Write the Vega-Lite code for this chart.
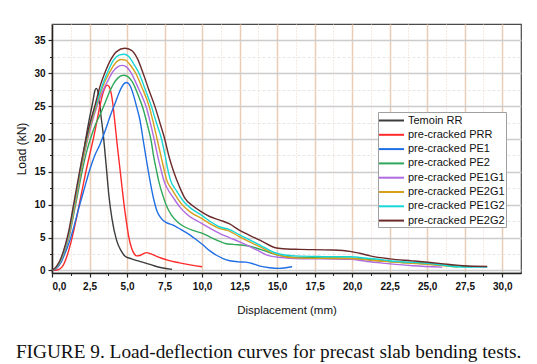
{
  "$schema": "https://vega.github.io/schema/vega-lite/v6.json",
  "width": 469,
  "height": 249,
  "autosize": {"type": "none"},
  "padding": {"left": 52, "top": 24, "right": 16, "bottom": 91},
  "background": "white",
  "title": {
    "text": "FIGURE 9. Load-deflection curves for precast slab bending tests.",
    "orient": "bottom",
    "anchor": "start",
    "frame": "bounds",
    "offset": 27,
    "font": "Liberation Serif",
    "fontSize": 19.3,
    "fontWeight": "normal",
    "color": "#111"
  },
  "config": {
    "font": "Liberation Sans",
    "view": {"stroke": "#4a4a4a", "strokeWidth": 1.2},
    "axis": {"zindex": 0}
  },
  "data": {
    "values": [
      {"s": "Temoin RR", "x": [0,0.3,0.6,0.9,1.1,1.4,1.7,2.0,2.25,2.5,2.73,2.85,2.95,3.05,3.15,3.25,3.4,3.6,3.8,4.0,4.3,4.6,4.85,5.3,5.8,6.3,6.8,7.3,8.0], "y": [0,0.4,1.5,3.5,5.3,8.8,12.5,16.3,20,23.2,25.8,27.3,27.7,27.3,26,23.8,21,16.2,11.2,7.8,4.6,3.0,2.2,1.75,1.4,1.07,0.7,0.4,0.15]},
      {"s": "pre-cracked PRR", "x": [0,0.4,0.7,1.0,1.3,1.6,1.9,2.2,2.5,2.8,3.0,3.2,3.4,3.55,3.67,3.8,3.92,4.05,4.2,4.35,4.5,4.65,4.8,4.95,5.1,5.3,5.5,5.65,5.9,6.1,6.3,6.55,6.9,7.3,7.7,8.5,9.3,10.0], "y": [0,0.1,0.6,2.2,4.6,7.6,11,14.4,17.5,20.5,22.8,25.1,27,27.9,28.2,28.0,27.2,25.4,22.3,19,16,13,10,7.5,5.3,3.4,2.45,2.2,2.3,2.55,2.7,2.55,2.2,1.85,1.55,1.15,0.8,0.55]},
      {"s": "pre-cracked PE1", "x": [0,0.3,0.6,0.9,1.2,1.5,1.8,2.1,2.5,2.85,3.2,3.5,3.85,4.18,4.5,4.75,4.95,5.15,5.4,5.65,5.85,6.1,6.35,6.6,6.8,7.0,7.25,7.6,8.07,8.6,9.18,9.6,10.07,10.5,10.96,11.4,11.85,12.4,12.9,13.4,13.85,14.5,15.1,15.6,16.0], "y": [0,0.3,1.2,2.8,4.6,7,9.6,12,15.2,17.5,19.2,21,23.3,25.3,27.2,28.3,28.6,28.3,26.9,24.8,23,19.5,16,12.8,10.6,9.0,8.0,7.3,6.9,6.2,5.4,4.7,3.85,3.0,2.3,1.8,1.47,1.3,1.25,1.0,0.65,0.4,0.3,0.4,0.55]},
      {"s": "pre-cracked PE2", "x": [0,0.3,0.6,0.9,1.15,1.4,1.7,2.0,2.3,2.6,2.9,3.2,3.5,3.8,4.1,4.4,4.75,5.05,5.4,5.75,6.07,6.35,6.6,6.8,6.98,7.1,7.4,7.6,7.96,8.4,8.85,9.5,10.07,10.6,11.18,11.6,12.07,13.0,13.6,14.5,15.3,16,18,20,21,22.5,24.5,26.5,28], "y": [0,0.4,1.5,3.3,5.2,8,11.5,15,18,20.3,22.2,23.7,25.3,27,28.4,29.3,29.7,29.5,28.5,26.6,24.6,22.2,19.8,17,15,13.7,11.3,10,8.4,7.3,6.6,6.0,5.6,5.0,4.4,4.05,3.95,3.75,3.4,2.7,2.2,2.0,1.9,1.85,1.65,1.35,1.05,0.75,0.55]},
      {"s": "pre-cracked PE1G1", "x": [0,0.3,0.6,0.9,1.15,1.45,1.75,2.05,2.35,2.65,3.0,3.4,3.75,4.07,4.4,4.69,5.0,5.29,5.7,6.0,6.29,6.55,6.8,7.05,7.3,7.45,7.75,8.07,8.5,9.0,9.96,10.6,11.18,11.8,12.5,13.2,13.85,14.5,15.3,16.2,18,19.85,21.0,22.2,24.05,26.0], "y": [0,0.4,1.5,3.4,5.3,9,12.8,16.5,19.7,22.4,25,27.4,29,30.3,31,31.2,30.9,30,28,26.5,24.8,22.5,20,17.3,15,13.7,12.2,11.1,9.7,8.5,7.15,6.3,5.6,5.0,4.35,3.6,2.85,2.2,1.95,1.8,1.75,1.7,1.35,1.07,0.7,0.5]},
      {"s": "pre-cracked PE2G1", "x": [0,0.3,0.6,0.9,1.15,1.45,1.75,2.05,2.35,2.65,2.95,3.35,3.8,4.2,4.6,4.9,5.2,5.58,6.0,6.47,6.75,7.0,7.25,7.5,7.65,8.0,8.6,9.2,9.96,10.6,11.18,11.7,12.5,13.2,13.85,14.96,16.2,18,19.85,21.0,21.85,22.5,25.2,27.05], "y": [0,0.5,1.6,3.6,5.5,9.2,13,16.8,20,22.8,25,27.8,30,31.5,32.1,32.0,31.3,30,27.8,25,22.5,20,17.5,15,13.7,12.3,10.2,8.9,7.9,7.0,6.35,6.1,5.1,4.3,3.6,2.4,1.9,1.82,1.8,1.6,1.42,1.3,0.9,0.5]},
      {"s": "pre-cracked PE1G2", "x": [0,0.3,0.6,0.9,1.1,1.4,1.7,2.0,2.3,2.6,2.9,3.3,3.67,4.1,4.5,4.8,5.1,5.45,5.8,6.2,6.62,6.95,7.3,7.55,7.75,7.9,8.3,8.8,9.4,9.96,10.5,11.18,11.8,12.5,13.2,13.85,14.96,16.2,18,19.85,21.0,21.85,22.5,25.2,26.7,27.5,29.0], "y": [0,0.5,1.7,3.8,5.5,9.2,13,16.8,20,22.8,25,27.8,30,32,32.8,32.9,32.6,31.4,30,27.6,25,22.5,20,17.3,15,13.7,12.1,10.4,9.2,8.4,7.5,6.6,6.25,5.4,4.6,3.85,2.6,2.2,2.1,2.07,1.85,1.67,1.47,1.05,0.6,0.5,0.5]},
      {"s": "pre-cracked PE2G2", "x": [0,0.3,0.6,0.9,1.1,1.4,1.7,2.0,2.3,2.6,2.85,3.2,3.51,3.9,4.3,4.85,5.3,5.7,6.07,6.45,6.85,7.2,7.51,7.8,8.11,8.5,8.85,9.4,9.96,10.5,11.18,11.8,12.5,13.2,13.85,14.96,15.7,16.5,18.7,19.85,20.5,21.2,22.5,24,25.2,26.5,27.4,29.0], "y": [0,0.6,1.9,4,5.8,9.5,13.3,17,20.3,23,25,28,30,32,33.3,33.8,33.5,32.2,30,27.5,25,22.4,20,17.3,15,12.7,11,9.8,8.9,8.2,7.65,7.1,6.1,5.3,4.6,3.4,3.25,3.2,3.1,2.9,2.6,2.2,1.75,1.45,1.2,0.9,0.7,0.6]}
    ]
  },
  "transform": [{"flatten": ["x", "y"]}],
  "layer": [
    {
      "mark": {"type": "point", "opacity": 0},
      "encoding": {
        "x": {
          "field": "x", "type": "quantitative",
          "scale": {"domain": [0, 31.25], "nice": false, "zero": false},
          "axis": {
            "orient": "bottom", "values": [1.25,3.75,6.25,8.75,11.25,13.75,16.25,18.75,21.25,23.75,26.25,28.75],
            "grid": true, "gridColor": "#f0d2c4", "gridDash": [1, 2], "gridWidth": 1,
            "labels": false, "domain": false, "ticks": true, "tickSize": 2.5, "tickColor": "#222", "tickWidth": 1, "title": null
          }
        },
        "y": {
          "field": "y", "type": "quantitative",
          "scale": {"domain": [-0.4, 37.5], "nice": false, "zero": false},
          "axis": {
            "orient": "left", "values": [2.5,7.5,12.5,17.5,22.5,27.5,32.5],
            "grid": true, "gridColor": "#e6e6e6", "gridDash": [3, 2], "gridWidth": 1,
            "labels": false, "domain": false, "ticks": true, "tickSize": 2.5, "tickColor": "#222", "tickWidth": 1, "title": null
          }
        }
      }
    },
    {
      "mark": {"type": "line", "interpolate": "monotone", "strokeWidth": 1.4},
      "encoding": {
        "x": {
          "field": "x", "type": "quantitative",
          "scale": {"domain": [0, 31.25], "nice": false, "zero": false},
          "axis": {
            "orient": "bottom", "values": [0,2.5,5,7.5,10,12.5,15,17.5,20,22.5,25,27.5,30],
            "labelExpr": "replace(format(datum.value, '.1f'), '.', ',')",
            "labelFont": "Liberation Sans", "labelFontWeight": "bold", "labelFontSize": 10, "labelColor": "#111", "labelPadding": 4,
            "grid": true, "gridColor": "#eacbb3", "gridWidth": 1.5,
            "domainColor": "#222", "domainWidth": 1.5, "tickColor": "#222", "tickSize": 4, "tickWidth": 1.2,
            "title": "Displacement (mm)", "titleFont": "Liberation Sans", "titleFontWeight": "normal", "titleFontSize": 11.5, "titleColor": "#111", "titlePadding": 13
          }
        },
        "y": {
          "field": "y", "type": "quantitative",
          "scale": {"domain": [-0.4, 37.5], "nice": false, "zero": false},
          "axis": {
            "orient": "left", "values": [0,5,10,15,20,25,30,35],
            "labelFont": "Liberation Sans", "labelFontWeight": "bold", "labelFontSize": 10, "labelColor": "#111", "labelPadding": 3,
            "grid": true, "gridColor": "#cccccc", "gridWidth": 1.5,
            "domainColor": "#222", "domainWidth": 1.5, "tickColor": "#222", "tickSize": 4, "tickWidth": 1.2,
            "title": "Load (kN)", "titleFont": "Liberation Sans", "titleFontWeight": "normal", "titleFontSize": 12, "titleColor": "#111", "titlePadding": 5
          }
        },
        "color": {
          "field": "s", "type": "nominal",
          "scale": {
            "domain": ["Temoin RR", "pre-cracked PRR", "pre-cracked PE1", "pre-cracked PE2", "pre-cracked PE1G1", "pre-cracked PE2G1", "pre-cracked PE1G2", "pre-cracked PE2G2"],
            "range": ["#3c3c3c", "#ff2b2b", "#1f6fe5", "#2fa85a", "#b06be0", "#d6a01c", "#17d6d6", "#6b2b2b"]
          },
          "legend": {
            "title": null, "orient": "none", "legendX": 326, "legendY": 88,
            "symbolType": "M-2,0H2", "symbolSize": 156, "symbolStrokeWidth": 2, "symbolOffset": 5,
            "labelFont": "Liberation Sans", "labelFontSize": 11, "labelColor": "#111", "labelOffset": 9,
            "rowPadding": 1.3, "padding": 1, "strokeColor": "#a0a0a0", "fillColor": "white"
          }
        }
      }
    }
  ],
  "resolve": {"axis": {"x": "independent", "y": "independent"}}
}
